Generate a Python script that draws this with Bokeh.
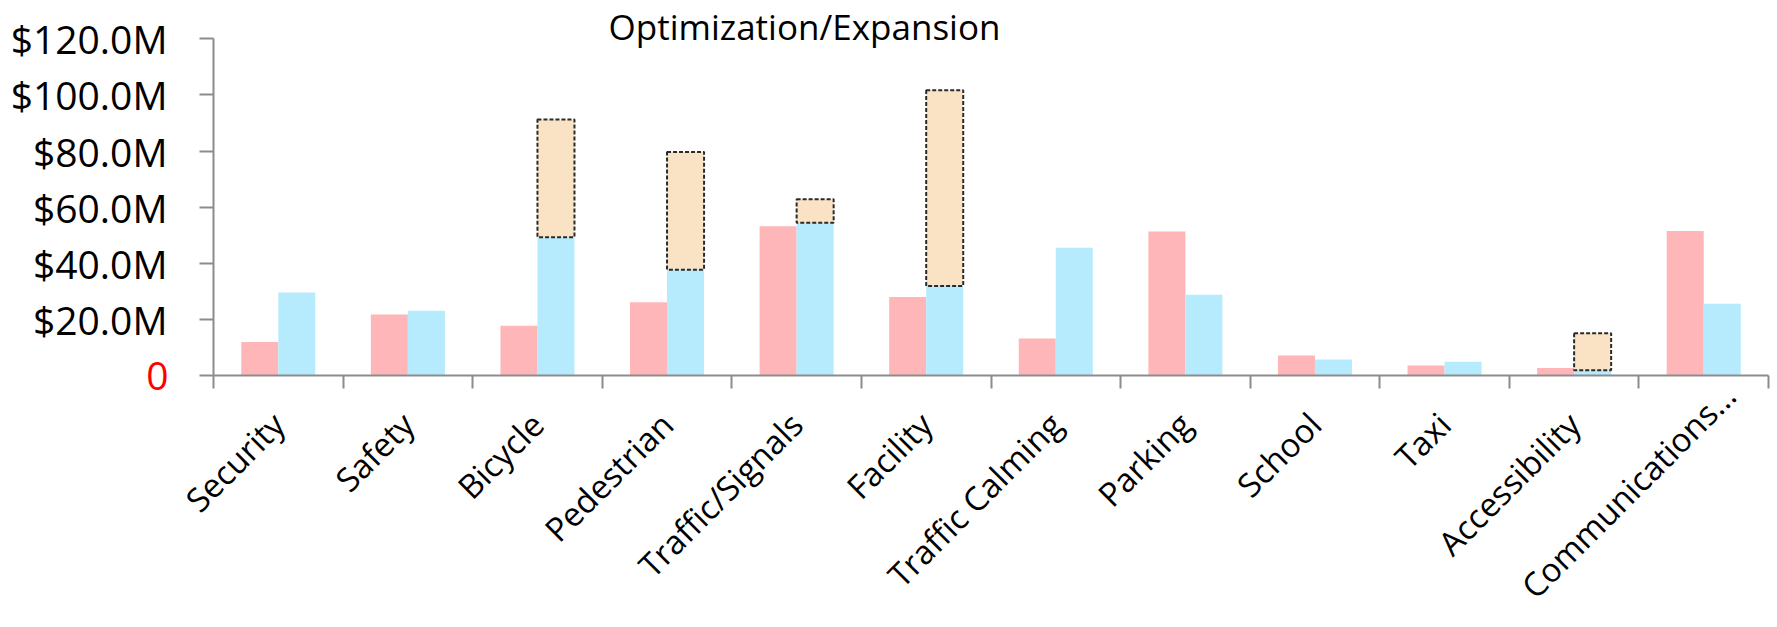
import numpy as np
from bokeh.plotting import figure
from bokeh.models import FixedTicker, Label, Range1d, ColumnDataSource, LinearAxis
from bokeh.embed import file_html
from bokeh.resources import INLINE

# ---- data (values in $M) ----
categories = ["Security", "Safety", "Bicycle", "Pedestrian", "Traffic/Signals", "Facility",
              "Traffic Calming", "Parking", "School", "Taxi", "Accessibility", "Communications…"]
series_pink = [11.9, 21.7, 17.7, 26.1, 53.2, 28.0, 13.2, 51.3, 7.1, 3.6, 2.7, 51.5]
series_blue = [29.6, 23.1, 49.3, 37.7, 54.4, 31.9, 45.5, 28.8, 5.7, 4.9, 1.9, 25.6]
series_extra = [0, 0, 41.9, 42.0, 8.4, 69.8, 0, 0, 0, 0, 13.2, 0]
y_ticks = [20, 40, 60, 80, 100, 120]
y_tick_labels = ["$20.0M", "$40.0M", "$60.0M", "$80.0M", "$100.0M", "$120.0M"]
zero_label = "0"
title_text = "Optimization/Expansion"

FONT = "Open Sans"
AXIS_COLOR = "#8C8C8C"
PINK = "#FFB6B8"
BLUE = "#B6EBFD"
WHEAT = "#FAE3C4"
BAR_W = 0.2857

W, H = 1776, 626
# pixel layout of the plotting area inside the canvas
X0_PX, X1_PX = 213.0, 1768.0      # category 0 .. n
Y0_PX, Y120_PX = 375.0, 38.3      # value 0 .. 120

n = len(categories)
idx = np.arange(n)
centers = idx + 0.5
bounds = list(np.arange(n + 1).astype(float))

sx = (X1_PX - X0_PX) / n
sy = (Y0_PX - Y120_PX) / 120.0
x_range = Range1d(-X0_PX / sx, n + (W - X1_PX) / sx)
y_range = Range1d(-(H - Y0_PX) / sy, 120 + Y120_PX / sy)

pink_src = ColumnDataSource(dict(x=centers - BAR_W / 2, top=series_pink))
blue_src = ColumnDataSource(dict(x=centers + BAR_W / 2, top=series_blue))
mask = np.array(series_extra) > 0
extra_src = ColumnDataSource(dict(
    x=(centers + BAR_W / 2)[mask],
    bottom=np.array(series_blue)[mask],
    top=(np.array(series_blue) + np.array(series_extra))[mask],
))

p = figure(width=W, height=H, x_range=x_range, y_range=y_range,
           output_backend="svg", toolbar_location=None, min_border=0)
p.title.visible = False
p.grid.visible = False
p.outline_line_color = None
p.background_fill_color = "white"
p.border_fill_color = "white"

p.vbar(x="x", top="top", bottom=0, width=BAR_W, source=pink_src, fill_color=PINK, line_color=None)
p.vbar(x="x", top="top", bottom=0, width=BAR_W, source=blue_src, fill_color=BLUE, line_color=None)
p.vbar(x="x", top="top", bottom="bottom", width=BAR_W, source=extra_src, fill_color=WHEAT,
       line_color="#2A2A2A", line_dash="4 2", line_width=2)


def style_x_labels(ax, standoff):
    ax.major_tick_out = 0
    ax.major_tick_in = 0
    ax.major_label_orientation = np.pi / 4
    ax.major_label_text_font = FONT
    ax.major_label_text_font_size = "33px"
    ax.major_label_text_color = "black"
    ax.major_label_standoff = standoff


# x axis: labels at category centres, ticks at category boundaries
xa = p.xaxis[0]
xa.fixed_location = 0
xa.bounds = (0, n)
xa.ticker = FixedTicker(ticks=list(centers[:-1]), minor_ticks=bounds)
xa.major_label_overrides = {float(c): name for c, name in zip(centers[:-1], categories[:-1])}
xa.minor_tick_out = 13
xa.minor_tick_in = 0
xa.minor_tick_line_color = AXIS_COLOR
xa.minor_tick_line_width = 2
xa.axis_line_color = AXIS_COLOR
xa.axis_line_width = 2
style_x_labels(xa, 30)

# the truncated last label sits a little higher and further right, as in the original
last_pos = float(centers[-1] + 0.2)
xa2 = LinearAxis(fixed_location=0, bounds=(0, n),
                 ticker=FixedTicker(ticks=[last_pos], minor_ticks=[]),
                 major_label_overrides={last_pos: categories[-1]},
                 axis_line_color=None, minor_tick_line_color=None, major_tick_line_color=None)
style_x_labels(xa2, 14)
p.add_layout(xa2, "below")

ya = p.yaxis[0]
ya.fixed_location = 0
ya.bounds = (0, 120)
ya.ticker = FixedTicker(ticks=y_ticks, minor_ticks=[0])
ya.major_label_overrides = {float(t): s for t, s in zip(y_ticks, y_tick_labels)}
ya.major_tick_out = 14
ya.major_tick_in = 0
ya.minor_tick_out = 14
ya.minor_tick_in = 0
ya.major_tick_line_color = AXIS_COLOR
ya.minor_tick_line_color = AXIS_COLOR
ya.major_tick_line_width = 2
ya.minor_tick_line_width = 2
ya.axis_line_color = AXIS_COLOR
ya.axis_line_width = 2
ya.major_label_text_font = FONT
ya.major_label_text_font_size = "39px"
ya.major_label_text_color = "black"
ya.major_label_standoff = 32

# red zero label left of the origin
p.add_layout(Label(x=-(X0_PX - 168.0) / sx, y=0, text=zero_label, text_color="red",
                   text_align="right", text_baseline="middle",
                   text_font=FONT, text_font_size="39px"))
# chart title
p.add_layout(Label(x=(804.0 - X0_PX) / sx, y=(Y0_PX - 25.5) / sy, text=title_text,
                   text_color="black", text_align="center", text_baseline="alphabetic",
                   text_font=FONT, text_font_size="35px"))

open("out.html", "w").write(file_html(p, INLINE))
